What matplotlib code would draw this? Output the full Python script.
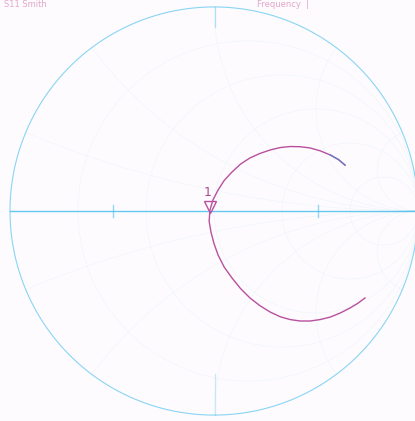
import numpy as np
import matplotlib.pyplot as plt

# trace, as reflection coefficient (re, im)
gamma_re = [0.642, 0.610, 0.569, 0.520, 0.471, 0.422, 0.373, 0.324, 0.275, 0.225,
            0.176, 0.130, 0.088, 0.050, 0.020, -0.005, -0.020, -0.024, -0.015,
            0.000, 0.020, 0.050, 0.088, 0.130, 0.176, 0.225, 0.275, 0.324, 0.373,
            0.422, 0.471, 0.520, 0.569, 0.618, 0.667, 0.705, 0.740]
gamma_im = [0.225, 0.252, 0.275, 0.295, 0.309, 0.315, 0.316, 0.311, 0.299, 0.282,
            0.260, 0.230, 0.191, 0.150, 0.103, 0.055, 0.005, -0.050, -0.103,
            -0.160, -0.216, -0.275, -0.328, -0.380, -0.426, -0.464, -0.495, -0.518,
            -0.532, -0.539, -0.539, -0.532, -0.520, -0.500, -0.475, -0.452, -0.426]

marker_re = -0.02
marker_im = 0.02
marker_label = '1'

r_values = [0.2, 0.5, 1.0, 2.0, 5.0]
x_values = [0.2, 0.5, 1.0, 2.0, 5.0]

grid_col = '#4cc0f0'
trace_col = '#b9509f'

fig = plt.figure(figsize=(4.15, 4.21), dpi=100)
fig.patch.set_facecolor('#fdfbfd')
ax = fig.add_axes([0, 0, 1, 1])
ax.set_facecolor('#fdfbfd')
ax.set_xlim(-1.049, 0.985)
ax.set_ylim(-1.029, 1.034)
ax.axis('off')

t = np.linspace(0, 2 * np.pi, 600)
# outer circle and real axis
ax.plot(np.cos(t), np.sin(t), color=grid_col, lw=0.8, alpha=0.65)
ax.plot([-1, 1], [0, 0], color=grid_col, lw=1.0, alpha=0.85)

# faint impedance grid
for r in r_values:
    c = r / (1 + r)
    rad = 1 / (1 + r)
    ax.plot(c + rad * np.cos(t), rad * np.sin(t), color=grid_col, lw=0.5, alpha=0.07)
for x in x_values:
    rad = 1 / x
    th = np.linspace(0, 2 * np.pi, 2000)
    px = 1 + rad * np.cos(th)
    py = rad + rad * np.sin(th)
    m = px**2 + py**2 <= 1.0
    ax.plot(np.where(m, px, np.nan), np.where(m, py, np.nan), color=grid_col, lw=0.5, alpha=0.07)
    ax.plot(np.where(m, px, np.nan), np.where(m, -py, np.nan), color=grid_col, lw=0.5, alpha=0.07)

# a few small tick marks
for xt in [-0.495, 0.51]:
    ax.plot([xt, xt], [-0.03, 0.03], color=grid_col, lw=1.0, alpha=0.6)
ax.plot([0.005, 0.005], [1.0, 0.9], color=grid_col, lw=0.9, alpha=0.45)
ax.plot([0.005, 0.005], [-1.0, -0.8], color=grid_col, lw=0.9, alpha=0.3)

# trace
ax.plot(gamma_re, gamma_im, color=trace_col, lw=1.0)
ax.plot(gamma_re[:3], gamma_im[:3], color='#6a7fc0', lw=1.0)

# marker
ax.plot(marker_re, marker_im, marker='v', ms=8, mfc='none', mec=trace_col, mew=1.0)
ax.text(marker_re - 0.01, marker_im + 0.07, marker_label, color='#b04a90',
        fontsize=9, ha='center', va='center')

# title strip at the top edge
fig.text(0.01, 0.999, 'S11 Smith', color='#e3a6c9', fontsize=6, ha='left', va='top')
fig.text(0.62, 0.999, 'Frequency  |', color='#e3a6c9', fontsize=6, ha='left', va='top')

fig.savefig('out.png', dpi=100, facecolor=fig.get_facecolor())
